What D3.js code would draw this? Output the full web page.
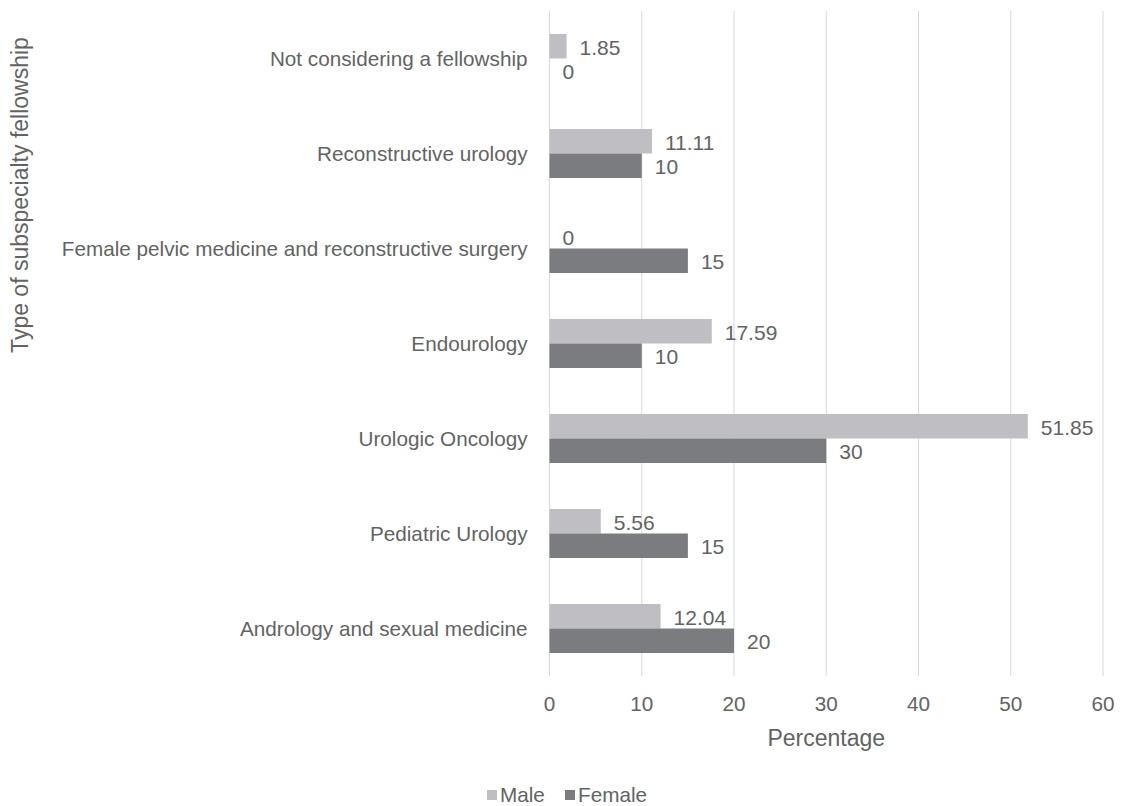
<!DOCTYPE html>
<html>
<head>
<meta charset="utf-8">
<script src="https://cdn.jsdelivr.net/npm/d3@7"></script>
<style>
  html, body { margin: 0; padding: 0; background: #fff; }
  svg { display: block; font-family: "Liberation Sans", Arial, sans-serif; }
</style>
</head>
<body>
<svg id="chart" width="1121" height="806"></svg>
<script>
// categories top to bottom
const categories = [
    'Not considering a fellowship',
    'Reconstructive urology',
    'Female pelvic medicine and reconstructive surgery',
    'Endourology',
    'Urologic Oncology',
    'Pediatric Urology',
    'Andrology and sexual medicine'
];
const seriesNames = ['Male', 'Female'];
const maleValues = [1.85, 11.11, 0, 17.59, 51.85, 5.56, 12.04];
const femaleValues = [0, 10, 15, 10, 30, 15, 20];
const xTicks = [0, 10, 20, 30, 40, 50, 60];

const colors = { Male: '#bfbfc3', Female: '#7b7c80' };
const textColor = '#636363';

const svg = d3.select('#chart');
const margin = { left: 549.5, right: 18, top: 11, bottom: 130 };
const width = 1121, height = 806;

const x = d3.scaleLinear()
    .domain([0, 60])
    .range([margin.left, width - margin.right]);

const y = d3.scaleBand()
    .domain(categories)
    .range([margin.top, height - margin.bottom])
    .paddingInner(0.484)
    .paddingOuter(0.242);

const ySub = d3.scaleBand()
    .domain(seriesNames)
    .range([0, y.bandwidth()]);

// gridlines
svg.append('g')
    .selectAll('line')
    .data(xTicks)
    .join('line')
    .attr('x1', d => x(d)).attr('x2', d => x(d))
    .attr('y1', margin.top).attr('y2', height - margin.bottom)
    .attr('stroke', '#d9d9d9')
    .attr('stroke-width', 1);

// tick labels
svg.append('g')
    .selectAll('text')
    .data(xTicks)
    .join('text')
    .attr('x', d => x(d))
    .attr('y', 711)
    .attr('text-anchor', 'middle')
    .attr('font-size', 20.7)
    .attr('fill', textColor)
    .text(d => d);

// category labels
svg.append('g')
    .selectAll('text')
    .data(categories)
    .join('text')
    .attr('x', margin.left - 22)
    .attr('y', d => y(d) + y.bandwidth() / 2)
    .attr('dy', '0.35em')
    .attr('text-anchor', 'end')
    .attr('font-size', 20.7)
    .attr('fill', textColor)
    .text(d => d);

// bars
const rows = categories.map((c, i) => ({
    category: c,
    values: [
        { key: 'Male', value: maleValues[i] },
        { key: 'Female', value: femaleValues[i] }
    ]
}));

const groups = svg.append('g')
    .selectAll('g')
    .data(rows)
    .join('g')
    .attr('transform', d => `translate(0,${y(d.category)})`);

groups.selectAll('rect')
    .data(d => d.values)
    .join('rect')
    .attr('x', x(0))
    .attr('y', d => ySub(d.key))
    .attr('width', d => x(d.value) - x(0))
    .attr('height', ySub.bandwidth())
    .attr('fill', d => colors[d.key]);

groups.selectAll('text')
    .data(d => d.values)
    .join('text')
    .attr('x', d => x(d.value) + 13)
    .attr('y', d => ySub(d.key) + ySub.bandwidth() / 2 + 1)
    .attr('dy', '0.35em')
    .attr('font-size', 21)
    .attr('fill', textColor)
    .text(d => d.value);

// axis titles
svg.append('text')
    .attr('x', (x(0) + x(60)) / 2)
    .attr('y', 746)
    .attr('text-anchor', 'middle')
    .attr('font-size', 23)
    .attr('fill', textColor)
    .text('Percentage');

svg.append('text')
    .attr('transform', 'translate(28,195) rotate(-90)')
    .attr('text-anchor', 'middle')
    .attr('font-size', 23)
    .attr('fill', textColor)
    .text('Type of subspecialty fellowship');

// legend
const legendPos = { Male: 487, Female: 565 };
const legend = svg.append('g')
    .selectAll('g')
    .data(seriesNames)
    .join('g')
    .attr('transform', d => `translate(${legendPos[d]},790)`);

legend.append('rect')
    .attr('width', 10).attr('height', 10)
    .attr('fill', d => colors[d]);

legend.append('text')
    .attr('x', 13)
    .attr('y', 5)
    .attr('dy', '0.35em')
    .attr('font-size', 20.7)
    .attr('fill', textColor)
    .text(d => d);
</script>
</body>
</html>
